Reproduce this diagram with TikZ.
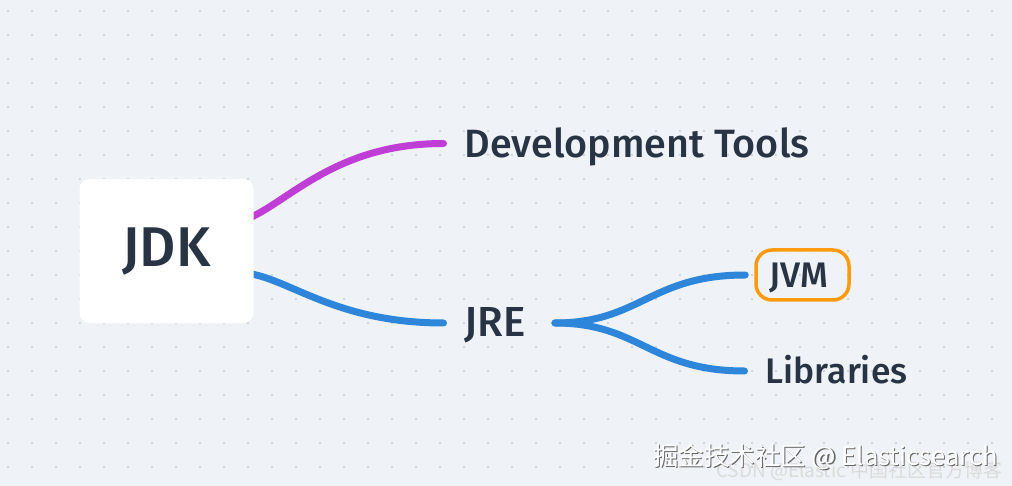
\documentclass[tikz,border=0pt]{standalone}
\usepackage{fontspec}
\setmainfont{Fira Sans}[UprightFont={* Medium}]
\newfontfamily\cjkfont{Noto Sans CJK SC}
\definecolor{bgcol}{HTML}{EFF2F6}
\definecolor{dotcol}{HTML}{C6CBD2}
\definecolor{ink}{HTML}{283444}
\definecolor{purp}{HTML}{BE3ED6}
\definecolor{blu}{HTML}{2E86DA}
\definecolor{orng}{HTML}{FF9A0E}
\pgfdeclarelayer{bg}
\pgfdeclarelayer{lines}
\pgfsetlayers{bg,lines,main}
\tikzset{
  rootbox/.style={fill=white, rounded corners=10pt, minimum width=174pt, minimum height=144pt, inner sep=0pt,
    text=ink, font=\fontsize{56}{56}\selectfont},
  lvlone/.style={text=ink, font=\fontsize{39.5}{39.5}\selectfont, text height=27.2pt, text depth=0pt, inner xsep=21pt, inner ysep=0pt},
  lvltwo/.style={text=ink, font=\fontsize{35.5}{35.5}\selectfont, text height=24.5pt, text depth=0pt, inner xsep=21pt, inner ysep=0pt},
  jvmbox/.style={lvltwo, draw=orng, line width=3.5pt, rounded corners=16pt, minimum width=93pt, minimum height=50pt, inner xsep=0pt},
  conn/.style={line width=7pt, line cap=round},
}
\begin{document}
\begin{tikzpicture}[x=1pt,y=-1pt]
\useasboundingbox (0,0) rectangle (1012,486);
\begin{pgfonlayer}{bg}
  \fill[bgcol] (0,0) rectangle (1012,486);
  \foreach \i in {0,...,42} {
    \foreach \j in {0,...,20} {
      \fill[dotcol] ({8+24*\i},{11+24*\j}) circle (1.1pt);
    }
  }
\end{pgfonlayer}
\node[rootbox] (jdk) at (166.5,251) {JDK};
\node[lvlone, anchor=west] (dev) at (443.5,143.5) {Development Tools};
\node[lvlone, anchor=west, font=\fontsize{42}{42}\selectfont] (jre) at (443.5,323) {JRE\kern8pt};
\node[jvmbox] (jvm) at (802.5,275) {JVM\kern8pt};
\node[lvltwo, anchor=west] (lib) at (744.5,371) {Libraries};
\coordinate (jdkup) at ([shift={(-2,-34)}]jdk.east);
\coordinate (jdkdn) at ([shift={(-2,23)}]jdk.east);
\begin{pgfonlayer}{lines}
  \draw[conn, purp] (jdkup) .. controls (293,197) and (340,143.5) .. (dev.west);
  \draw[conn, blu] (jdkdn) .. controls (293,282) and (340,323) .. (jre.west);
  \draw[conn, blu, shorten >=9pt] (jre.east) .. controls (640,323) and (650,275) .. (jvm.west);
  \draw[conn, blu] (jre.east) .. controls (640,323) and (650,371) .. (lib.west);
\end{pgfonlayer}
\node[anchor=base west, inner sep=0pt, text=black!14, font=\cjkfont\fontsize{19}{19}\selectfont] (wm2) at (716,477) {CSDN @Elastic 中国社区官方博客};
\node[anchor=base west, inner sep=0pt, text=black!60, font=\cjkfont\fontsize{25.5}{25.5}\selectfont] (wmshadow) at (654.2,466.2) {掘金技术社区 @ Elasticsearch};
\node[anchor=base west, inner sep=0pt, text=white, font=\cjkfont\fontsize{25.5}{25.5}\selectfont] (wm) at (653,465) {掘金技术社区 @ Elasticsearch};
\end{tikzpicture}
\end{document}
